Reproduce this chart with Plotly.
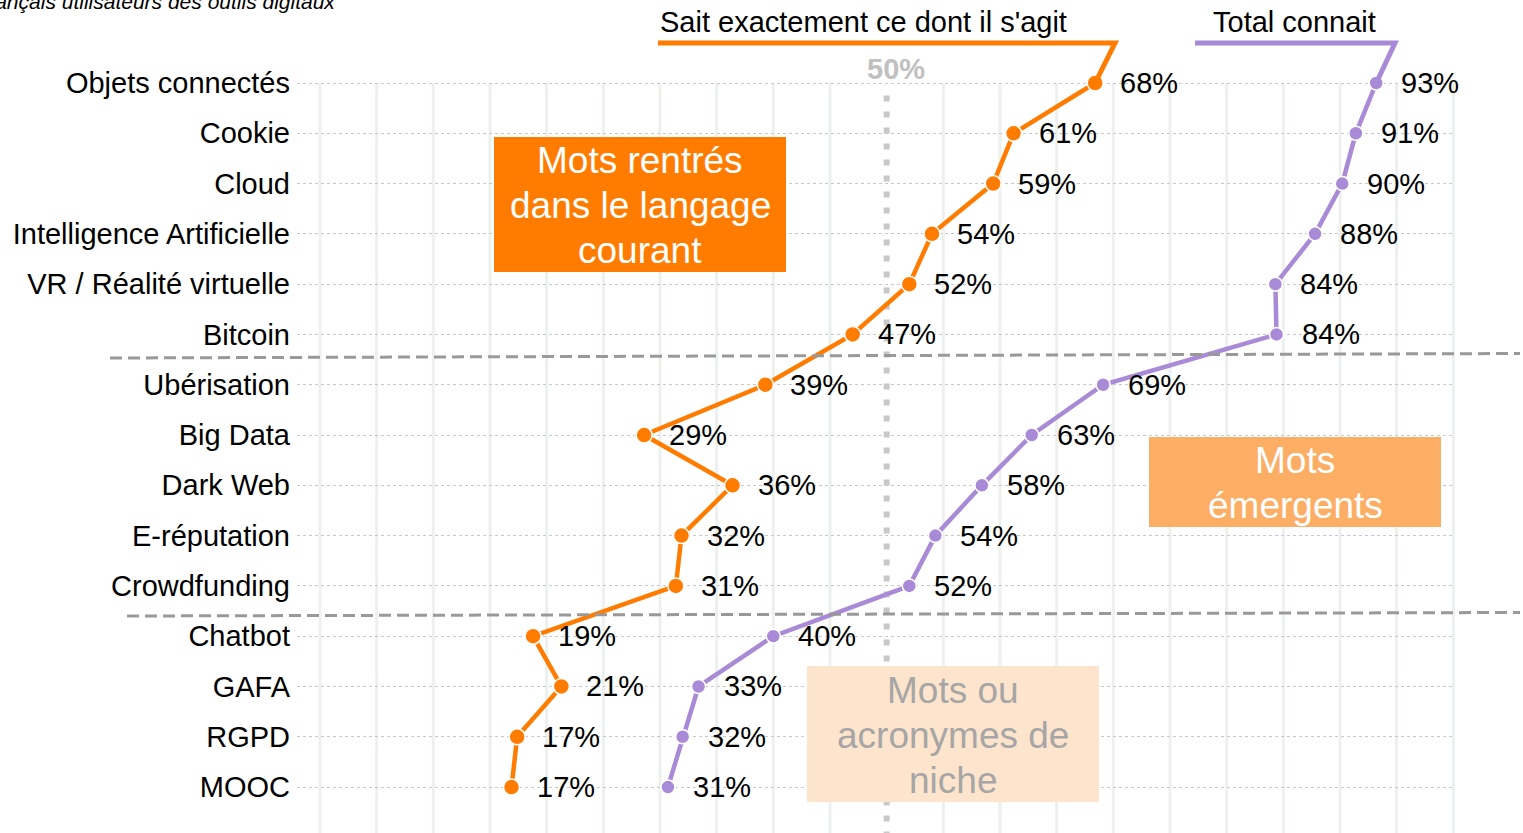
import plotly.graph_objects as go

# ---------------- data ----------------
categories = ["Objets connectés", "Cookie", "Cloud", "Intelligence Artificielle",
              "VR / Réalité virtuelle", "Bitcoin", "Ubérisation", "Big Data",
              "Dark Web", "E-réputation", "Crowdfunding", "Chatbot", "GAFA",
              "RGPD", "MOOC"]
sait_exactement = [68.4, 61.2, 59.4, 54.0, 52.0, 47.0, 39.3, 28.6, 36.4, 31.9,
                   31.4, 18.8, 21.3, 17.4, 16.9]
total_connait = [93.2, 91.4, 90.2, 87.8, 84.3, 84.4, 69.1, 62.8, 58.4, 54.3,
                 52.0, 40.0, 33.4, 32.0, 30.7]
series_names = ["Sait exactement ce dont il s'agit", "Total connait"]
group_labels = [["Mots rentrés", "dans le langage", "courant"],
                ["Mots", "émergents"],
                ["Mots ou", "acronymes de", "niche"]]
subtitle = "Base : Français utilisateurs des outils digitaux"

# ---------------- style / geometry (page pixels) ----------------
W, H = 1523, 833
OFF = 0                       # page body margin (set to 0 below)
PL, PR = 297, 1455            # plot area left/right on the page
ML, MR = PL - OFF, W - (PR - OFF)
FONT = "Liberation Sans, Arial, sans-serif"
ORANGE = "#FF7C00"
PURPLE = "#A98AD6"
X0PX, PXPCT = 320, 11.333     # page x of 0 %, pixels per %
Y0PX, PXCAT = 83, 50.29       # page y of first category, pixels per category
XMIN = (PL - X0PX) / PXPCT
XMAX = (PR - X0PX) / PXPCT
YTOP = (OFF - Y0PX) / PXCAT
YBOT = (H + OFF - Y0PX) / PXCAT

def dx(p):        # page pixel -> data x
    return (p - X0PX) / PXPCT

def dy(p):        # page pixel -> data y
    return (p - Y0PX) / PXCAT

def px_x(p):      # page pixel -> paper x
    return (p - PL) / (PR - PL)

def px_y(p):      # page pixel -> paper y
    return 1 - (p - OFF) / H

idx = list(range(len(categories)))

fig = go.Figure()
fig.add_trace(go.Scatter(
    x=sait_exactement, y=idx, mode="lines+markers", name=series_names[0],
    line=dict(color=ORANGE, width=4.5),
    marker=dict(size=16, color=ORANGE, line=dict(color="white", width=1.5)),
    hoverinfo="skip"))
fig.add_trace(go.Scatter(
    x=total_connait, y=idx, mode="lines+markers", name=series_names[1],
    line=dict(color=PURPLE, width=4.5),
    marker=dict(size=14, color=PURPLE, line=dict(color="white", width=1.5)),
    hoverinfo="skip"))

shapes = []
# vertical light grid lines every 5 %
for g in range(0, 101, 5):
    if g == 50:
        continue
    shapes.append(dict(type="line", xref="x", yref="y", x0=g, x1=g, y0=0, y1=YBOT,
                       line=dict(color="#EDF1EE", width=3), layer="below"))
# 50 % reference line
shapes.append(dict(type="line", xref="x", yref="y", x0=50, x1=50, y0=0.25, y1=YBOT,
                   line=dict(color="#C8C8C8", width=6, dash="6px,10px"), layer="below"))
# group boxes (drawn above the grid)
boxes = [((494, 137, 786, 272), ORANGE, "white"),
         ((1149, 437, 1441, 527), "#FDAE65", "white"),
         ((807, 666, 1099, 802), "#FDE4CC", "#A6A6A6")]
for (x0, y0, x1, y1), fill, _ in boxes:
    shapes.append(dict(type="rect", xref="x", yref="y",
                       x0=dx(x0), x1=dx(x1), y0=dy(y0), y1=dy(y1),
                       fillcolor=fill, line=dict(width=0), layer="between"))
# group separators
for (x0, y0, x1, y1) in [(110, 358, 1520, 353.5), (127, 616, 1520, 612.5)]:
    shapes.append(dict(type="line", xref="paper", yref="paper",
                       x0=px_x(x0), x1=px_x(x1), y0=px_y(y0), y1=px_y(y1),
                       line=dict(color="#999999", width=3, dash="12px,6px"), layer="above"))
# legend connectors (bar under series name, then down to first point)
legend_bars = [(658, 1115, ORANGE, sait_exactement[0]),
               (1195, 1395, PURPLE, total_connait[0])]
for xa, xb, col, v0 in legend_bars:
    yb = dy(43)
    shapes.append(dict(type="path", xref="x", yref="y",
                       path=f"M {dx(xa)},{yb} L {dx(xb)},{yb} L {v0},0",
                       line=dict(color=col, width=5), layer="above"))

annotations = []
# value labels
for series in (sait_exactement, total_connait):
    for i, v in enumerate(series):
        annotations.append(dict(x=v, y=i, xref="x", yref="y", text=f"{round(v)}%",
                                showarrow=False, xanchor="left", yanchor="middle", xshift=23,
                                font=dict(family=FONT, size=29, color="black")))
# series names
for name, xp in zip(series_names, [658, 1211]):
    annotations.append(dict(x=px_x(xp), y=px_y(22), xref="paper", yref="paper", text=name,
                            showarrow=False, xanchor="left", yanchor="middle",
                            font=dict(family=FONT, size=29, color="black")))
# 50 % label
annotations.append(dict(x=50, y=px_y(69), xref="x", yref="paper", text="<b>50%</b>",
                        showarrow=False, xanchor="center", yanchor="middle", xshift=9,
                        font=dict(family=FONT, size=29, color="#C0C0C0")))
# box texts, one annotation per line
for ((x0, y0, x1, y1), _, tcol), lines in zip(boxes, group_labels):
    cy = (y0 + y1) / 2 + 1
    n = len(lines)
    for k, line in enumerate(lines):
        ly = cy + (k - (n - 1) / 2) * 45
        annotations.append(dict(x=px_x((x0 + x1) / 2), y=px_y(ly),
                                xref="paper", yref="paper", text=line, showarrow=False,
                                xanchor="center", yanchor="middle",
                                font=dict(family=FONT, size=37, color=tcol)))
# cut-off subtitle at top-left
annotations.append(dict(x=px_x(338), y=px_y(1.5), xref="paper", yref="paper",
                        text=f"<i>{subtitle}</i>", showarrow=False,
                        xanchor="right", yanchor="middle",
                        font=dict(family=FONT, size=21, color="black")))

fig.update_layout(
    width=W, height=H,
    margin=dict(l=ML, r=MR, t=0, b=0),
    paper_bgcolor="white", plot_bgcolor="white",
    showlegend=False,
    shapes=shapes, annotations=annotations,
    font=dict(family=FONT, size=29, color="black"),
    xaxis=dict(range=[XMIN, XMAX], showgrid=False, zeroline=False,
               showticklabels=False, ticks="", showline=False),
    yaxis=dict(range=[YBOT, YTOP], tickmode="array", tickvals=idx, ticktext=categories,
               showgrid=True, gridcolor="#C8C8C8", griddash="dot", gridwidth=1,
               zeroline=False, ticks="", showline=False, ticklabelstandoff=6,
               tickfont=dict(family=FONT, size=29, color="black")),
)

fig.write_html("out.html", config={"displayModeBar": False},
               post_script="document.body.style.margin='0px';")
